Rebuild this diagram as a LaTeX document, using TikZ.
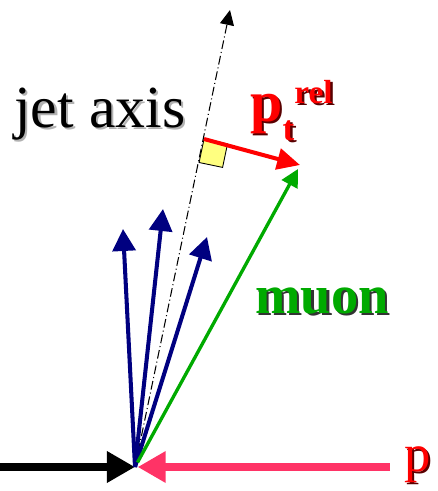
\documentclass[tikz,border=0pt]{standalone}
\usepackage{fontspec}
\setmainfont{Liberation Serif}
\usetikzlibrary{arrows.meta, positioning}
\definecolor{navy}{RGB}{0,0,128}
\definecolor{muongreen}{RGB}{0,170,0}
\definecolor{beampink}{RGB}{255,51,102}
\definecolor{boxyellow}{RGB}{255,255,128}
\newcommand{\shadowed}[2]{\rlap{\kern1.4pt\raisebox{-1.4pt}{\color{#1}#2}}#2}
\tikzstyle{beam} = [line width=4.5pt, -{Triangle[length=16pt,width=17pt]}]
\tikzstyle{track} = [navy, line width=2.3pt, -{Triangle[length=12.5pt,width=13pt]}]
\tikzstyle{muonarrow} = [muongreen, line width=1.9pt, -{Triangle[length=10pt,width=10pt]}]
\tikzstyle{relarrow} = [red, line width=2.3pt, -{Triangle[length=13pt,width=12pt]}]
\tikzstyle{jetline} = [line width=0.6pt, dash pattern=on 5pt off 1.7pt on 0.6pt off 1.7pt, -{Triangle[length=8.5pt,width=8pt]}]
\tikzstyle{sqr} = [fill=boxyellow, draw=black, line width=0.5pt]
\tikzstyle{lbl} = [inner sep=0pt, anchor=base west, font=\fontsize{34}{34}\selectfont]

\begin{document}
\begin{tikzpicture}[x=0.02cm, y=-0.02cm]
\useasboundingbox (0,0) rectangle (437,491);

\coordinate (vertex) at (135,467);
\coordinate (beamin) at (0,467);
\coordinate (beamout) at (390,467);
\coordinate (jettip) at (230,10);
\coordinate (foot) at (204,139);
\coordinate (reltip) at (300,165);
\coordinate (muontip) at (298,169);
\coordinate (trackA) at (123,229);
\coordinate (trackB) at (163,209);
\coordinate (trackC) at (207,237);

% incoming beams
\draw [beam] (beamin) -- (vertex);
\draw [beam, beampink, shorten >=1.5pt] (beamout) -- (vertex);

% jet axis and p_t^rel
\draw [jetline] (vertex) -- (jettip);
\draw [sqr] (foot) -- ++(-4.9,23.5) -- ++(23.5,4.9) -- ++(4.9,-23.5) -- cycle;
\draw [relarrow] (foot) -- (reltip);

% tracks
\draw [track] (vertex) -- (trackA);
\draw [track] (vertex) -- (trackB);
\draw [track] (vertex) -- (trackC);
\draw [muonarrow, shorten <=3pt] (vertex) -- (muontip);

\node (jetlabel) [lbl] at (14,127) {\shadowed{black!30}{jet axis}};
\node (rellabel) [lbl, font=\bfseries\fontsize{33}{33}\selectfont, text=red] at (250,121) {\shadowed{red!35!black}{p\raisebox{-11pt}{\fontsize{20}{20}\selectfont t}\raisebox{10pt}{\fontsize{19}{19}\selectfont rel}}};
\node (muonlabel) [lbl, font=\bfseries\fontsize{31}{31}\selectfont, text=muongreen] at (255,313) {\shadowed{black!80}{muon}};
\node (plabel) [lbl, font=\fontsize{30}{30}\selectfont, text=red] at (404,471) {\shadowed{red!35!black}{p}};

\end{tikzpicture}
\end{document}
